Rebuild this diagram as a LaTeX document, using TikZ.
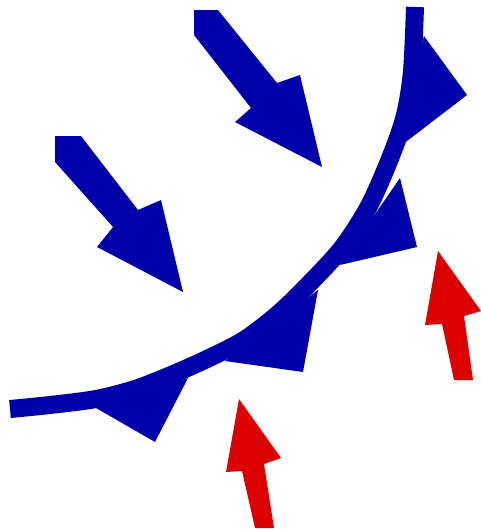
\documentclass[tikz,border=0pt]{standalone}
\usepackage{tikz}
\definecolor{coldblue}{RGB}{0,0,170}
\definecolor{warmred}{RGB}{221,0,0}
\tikzset{front/.style={draw=coldblue,line width=18pt},barb/.style={fill=coldblue},coldarrow/.style={fill=coldblue},warmarrow/.style={fill=warmred}}
\begin{document}
\begin{tikzpicture}[x=1pt,y=-1pt]
\useasboundingbox (0,0) rectangle (481,530);
\draw[front] plot[smooth] coordinates {(10,409) (50,405) (96,399) (135,389) (171,375) (207,359) (244,340) (278,314) (309,284) (342,248) (369,206) (391,156) (405,115) (412,71) (415,7)};
\fill[barb] (424,36) -- (467,95) -- (394,151) -- cycle;
\fill[barb] (400,178) -- (417,247) -- (340,265) -- cycle;
\fill[barb] (318,290) -- (303,372) -- (225,361) -- cycle;
\fill[barb] (188,378) -- (155,442) -- (96,408) -- cycle;
\fill[coldarrow] (194,10) -- (218,10) -- (277,83) -- (300,75) -- (322,167) -- (235,122) -- (251,108) -- (194,35) -- cycle;
\fill[coldarrow] (55,136) -- (81,136) -- (138,210) -- (161,200) -- (183,292) -- (97,247) -- (113,227) -- (55,162) -- cycle;
\fill[warmarrow] (438,251) -- (481,311) -- (464,316) -- (473,380) -- (454,380) -- (442,324) -- (425,325) -- cycle;
\fill[warmarrow] (239,399) -- (281,458) -- (264,464) -- (274,528) -- (255,528) -- (242,471) -- (226,472) -- cycle;
\end{tikzpicture}
\end{document}
